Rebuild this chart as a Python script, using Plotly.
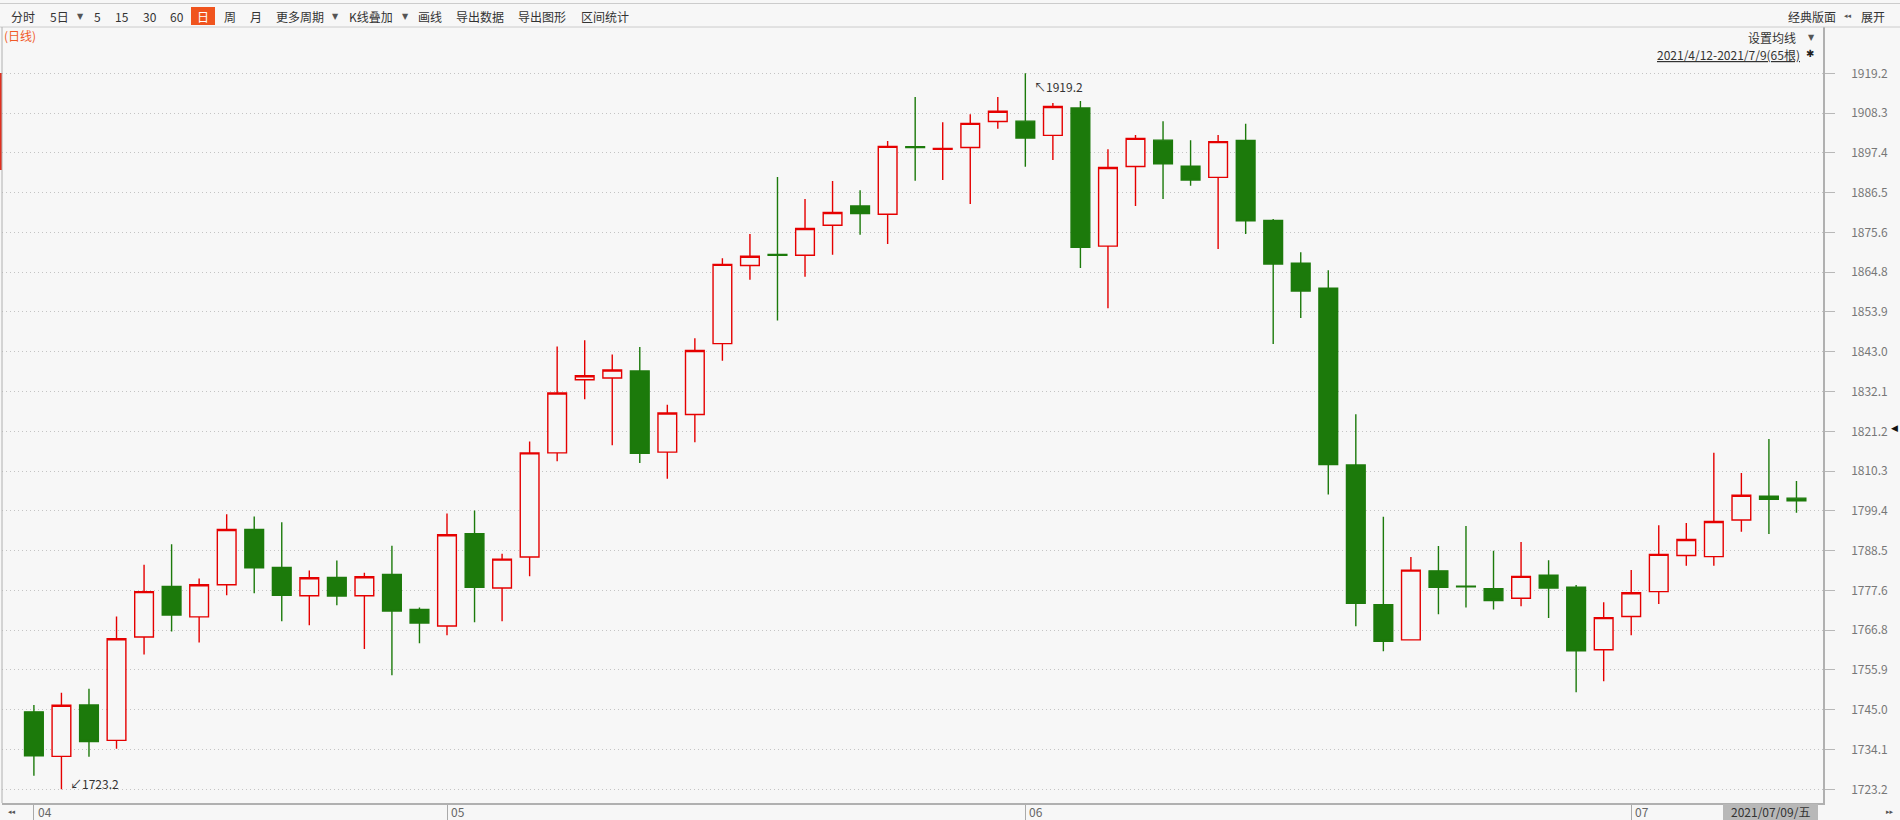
import plotly.graph_objects as go

# ---------------- data ----------------
dates = (
    ["2021-04-%02d" % d for d in [12, 13, 14, 15, 16, 19, 20, 21, 22, 23, 26, 27, 28, 29, 30]]
    + ["2021-05-%02d" % d for d in [3, 4, 5, 6, 7, 10, 11, 12, 13, 14, 17, 18, 19, 20, 21, 24, 25, 26, 27, 28, 31]]
    + ["2021-06-%02d" % d for d in [1, 2, 3, 4, 7, 8, 9, 10, 11, 14, 15, 16, 17, 18, 21, 22, 23, 24, 25, 28, 29, 30]]
    + ["2021-07-%02d" % d for d in [1, 2, 5, 6, 7, 8, 9]]
)

opens = [1744.4, 1732.2, 1746.3, 1736.6, 1764.9, 1778.7, 1770.4, 1779.2, 1794.3, 1783.9,
         1776.2, 1781.2, 1776.2, 1782.0, 1772.4, 1767.9, 1793.2, 1778.3, 1786.8, 1815.3,
         1835.3, 1835.8, 1837.7, 1815.5, 1825.8, 1845.2, 1866.6, 1869.6, 1869.4, 1877.6,
         1882.9, 1880.6, 1899.1, 1898.4, 1898.9, 1906.0, 1906.1, 1902.2, 1909.7, 1871.9,
         1893.7, 1900.9, 1893.8, 1890.7, 1900.8, 1878.9, 1867.2, 1860.4, 1812.0, 1773.7,
         1764.1, 1783.0, 1778.8, 1778.1, 1775.5, 1781.8, 1778.5, 1761.4, 1770.5, 1777.3,
         1787.2, 1786.9, 1796.9, 1803.4, 1802.9]
highs = [1746.3, 1749.6, 1750.7, 1770.5, 1784.7, 1790.3, 1780.9, 1798.5, 1797.9, 1796.3,
         1783.1, 1785.8, 1782.5, 1789.9, 1773.0, 1798.7, 1799.5, 1787.7, 1818.4, 1844.4,
         1846.1, 1842.2, 1844.3, 1828.5, 1846.7, 1868.6, 1875.2, 1890.8, 1884.8, 1889.7,
         1887.2, 1900.7, 1912.7, 1905.8, 1908.0, 1912.7, 1919.2, 1911.1, 1911.6, 1898.4,
         1902.3, 1906.1, 1900.9, 1902.3, 1905.4, 1879.3, 1870.2, 1865.3, 1825.9, 1797.8,
         1786.8, 1789.8, 1795.3, 1788.5, 1790.9, 1785.9, 1779.1, 1774.4, 1783.2, 1795.5,
         1796.1, 1815.3, 1809.8, 1819.1, 1807.6]
lows = [1726.9, 1723.2, 1732.1, 1734.3, 1760.1, 1766.4, 1763.4, 1776.3, 1776.9, 1769.2,
        1768.1, 1773.6, 1761.6, 1754.4, 1763.2, 1765.4, 1768.9, 1769.2, 1781.5, 1813.0,
        1830.0, 1817.4, 1812.5, 1808.2, 1818.2, 1840.5, 1862.7, 1851.5, 1863.5, 1869.5,
        1875.0, 1872.5, 1889.8, 1890.0, 1883.4, 1904.0, 1893.6, 1895.5, 1865.9, 1854.9,
        1882.9, 1884.8, 1888.4, 1871.1, 1875.2, 1845.1, 1852.2, 1803.9, 1767.8, 1761.0,
        1764.0, 1771.1, 1773.0, 1772.4, 1773.3, 1770.1, 1749.8, 1752.8, 1765.4, 1773.9,
        1784.4, 1784.4, 1793.7, 1793.1, 1798.9]
closes = [1732.4, 1746.2, 1736.3, 1764.4, 1777.3, 1770.9, 1779.2, 1794.3, 1783.8, 1776.3,
          1781.1, 1776.1, 1781.4, 1772.0, 1768.7, 1792.9, 1778.5, 1786.2, 1815.3, 1831.7,
          1836.4, 1838.0, 1815.2, 1826.2, 1843.3, 1866.9, 1869.1, 1869.4, 1876.7, 1881.1,
          1880.8, 1899.2, 1898.9, 1898.6, 1905.5, 1908.8, 1901.5, 1910.1, 1871.6, 1893.4,
          1901.4, 1894.4, 1890.0, 1900.5, 1878.8, 1867.0, 1859.6, 1812.1, 1774.1, 1763.7,
          1783.2, 1778.5, 1778.6, 1774.9, 1781.5, 1778.3, 1761.1, 1770.2, 1777.0, 1787.5,
          1791.6, 1796.5, 1803.7, 1802.6, 1802.2]

y_ticks = [1919.2, 1908.3, 1897.4, 1886.5, 1875.6, 1864.8, 1853.9, 1843.0, 1832.1, 1821.2,
           1810.3, 1799.4, 1788.5, 1777.6, 1766.8, 1755.9, 1745.0, 1734.1, 1723.2]
month_ticks = ["2021-04-12", "2021-05-03", "2021-06-01", "2021-07-01"]
month_labels = ["04", "05", "06", "07"]

toolbar_items = ["分时", "5日", "5", "15", "30", "60", "日", "周", "月", "更多周期", "K线叠加", "画线", "导出数据", "导出图形", "区间统计"]

# ---------------- styling ----------------
W, H = 1900, 820
L, R, T, B = 2, 1823, 27, 803
BG = "#f7f7f7"
RED = "#e50000"
GREEN = "#1c7a0b"
FONT = "Noto Sans CJK SC, Noto Sans, sans-serif"


def px(x):
    return (x - L) / (R - L)


def py(y):
    return (B - y) / (B - T)


fig = go.Figure()
fig.add_trace(go.Candlestick(
    x=dates, open=opens, high=highs, low=lows, close=closes,
    increasing=dict(line=dict(color=RED, width=1.4), fillcolor=BG),
    decreasing=dict(line=dict(color=GREEN, width=1.4), fillcolor=GREEN),
    whiskerwidth=0, hoverinfo="skip", showlegend=False,
))

ann = []
shapes = []

# toolbar
tb_x = [9, 48, 91.5, 113, 141, 168, 203, 222, 248, 274, 347, 416, 454, 516, 579]
for txt, x in zip(toolbar_items, tb_x):
    if txt == "日":
        shapes.append(dict(type="rect", xref="paper", yref="paper", x0=px(191), x1=px(215),
                           y0=py(25), y1=py(7), fillcolor="#f0541e", line=dict(width=0), layer="above"))
        ann.append(dict(x=px(203), y=py(16), xref="paper", yref="paper", text=txt, showarrow=False,
                        xanchor="center", yanchor="middle", font=dict(family=FONT, size=12, color="white")))
    else:
        ann.append(dict(x=px(x), y=py(16), xref="paper", yref="paper", text=txt, showarrow=False,
                        xanchor="left", yanchor="middle", font=dict(family=FONT, size=12, color="#333333")))
for x in [75, 330, 400]:
    ann.append(dict(x=px(x), y=py(16), xref="paper", yref="paper", text="▼", showarrow=False,
                    xanchor="left", yanchor="middle", font=dict(family="DejaVu Sans", size=8, color="#555555")))
ann.append(dict(x=px(1786), y=py(16), xref="paper", yref="paper", text="经典版面", showarrow=False,
                xanchor="left", yanchor="middle", font=dict(family=FONT, size=12, color="#333333")))
ann.append(dict(x=px(1842), y=py(16), xref="paper", yref="paper", text="◂◂", showarrow=False,
                xanchor="left", yanchor="middle", font=dict(family="DejaVu Sans", size=7, color="#555555")))
ann.append(dict(x=px(1859), y=py(16), xref="paper", yref="paper", text="展开", showarrow=False,
                xanchor="left", yanchor="middle", font=dict(family=FONT, size=12, color="#333333")))

# toolbar borders
for y in [3.5, 27]:
    shapes.append(dict(type="line", xref="paper", yref="paper", x0=px(0), x1=px(W), y0=py(y), y1=py(y),
                       line=dict(color="#cccccc", width=1)))

# chart texts
ann.append(dict(x=px(2), y=py(36), xref="paper", yref="paper", text="(日线)", showarrow=False,
                xanchor="left", yanchor="middle", font=dict(family=FONT, size=12, color="#f05a28")))
ann.append(dict(x=px(1798), y=py(38), xref="paper", yref="paper", text="设置均线", showarrow=False,
                xanchor="right", yanchor="middle", font=dict(family=FONT, size=12, color="#333333")))
ann.append(dict(x=px(1806), y=py(38), xref="paper", yref="paper", text="▼", showarrow=False,
                xanchor="left", yanchor="middle", font=dict(family="DejaVu Sans", size=8, color="#555555")))
ann.append(dict(x=px(1802), y=py(55), xref="paper", yref="paper", text="<u>2021/4/12-2021/7/9(65根)</u>",
                showarrow=False, xanchor="right", yanchor="middle",
                font=dict(family=FONT, size=12, color="#333333")))
ann.append(dict(x=px(1804), y=py(54), xref="paper", yref="paper", text="✱", showarrow=False,
                xanchor="left", yanchor="middle", font=dict(family="DejaVu Sans", size=10, color="#222222")))

# extremes
ann.append(dict(x=dates[36], y=highs[36], text="↖1919.2", showarrow=False, xanchor="left", yanchor="middle",
                xshift=7, yshift=-13, font=dict(family=FONT, size=12, color="#333333")))
ann.append(dict(x=dates[1], y=lows[1], text="↙1723.2", showarrow=False, xanchor="left", yanchor="middle",
                xshift=7, yshift=6, font=dict(family=FONT, size=12, color="#333333")))

# month labels beside their ticks
for d, lab in zip(month_ticks, month_labels):
    ann.append(dict(x=d, y=py(811.5), xref="x", yref="paper", text=lab, showarrow=False,
                    xanchor="left", yanchor="middle", xshift=2,
                    font=dict(family=FONT, size=12, color="#666666")))

# bottom
shapes.append(dict(type="rect", xref="paper", yref="paper", x0=px(1723), x1=px(1818), y0=py(820), y1=py(804),
                   fillcolor="#b8b8b8", line=dict(width=0)))
ann.append(dict(x=px(1770.5), y=py(811.5), xref="paper", yref="paper", text="2021/07/09/五", showarrow=False,
                xanchor="center", yanchor="middle", borderpad=0,
                font=dict(family=FONT, size=12, color="#333333")))
ann.append(dict(x=px(6), y=py(811.5), xref="paper", yref="paper", text="◂◂", showarrow=False,
                xanchor="left", yanchor="middle", font=dict(family="DejaVu Sans", size=7, color="#555555")))
ann.append(dict(x=px(1884), y=py(811.5), xref="paper", yref="paper", text="▸▸", showarrow=False,
                xanchor="left", yanchor="middle", font=dict(family="DejaVu Sans", size=7, color="#555555")))
ann.append(dict(x=px(1900), y=py(428), xref="paper", yref="paper", text="◀", showarrow=False,
                xanchor="right", yanchor="middle", font=dict(family="DejaVu Sans", size=9, color="#111111")))

# left red marker and left border
shapes.append(dict(type="rect", xref="paper", yref="paper", x0=px(0), x1=px(2), y0=py(170), y1=py(73),
                   fillcolor="#e03020", line=dict(width=0)))
shapes.append(dict(type="line", xref="paper", yref="paper", x0=px(2), x1=px(2), y0=0, y1=1,
                   line=dict(color="#b0b0b0", width=1)))

y_lo = 1723.2 - (B - 789.3) / 3.653
y_hi = 1919.2 + (73.3 - T) / 3.653
x_lo = (L - 33.9) / 27.54
x_hi = (R - 33.9) / 27.54

fig.update_layout(
    width=W, height=H,
    margin=dict(l=L, r=W - R, t=T, b=H - B, pad=0, autoexpand=False),
    paper_bgcolor=BG, plot_bgcolor=BG,
    boxgap=0.32, boxgroupgap=0,
    annotations=ann, shapes=shapes,
    xaxis=dict(
        type="category", range=[x_lo, x_hi], rangeslider=dict(visible=False),
        tickvals=month_ticks, ticktext=month_labels, ticks="outside", ticklen=17, tickcolor="#aaaaaa",
        showticklabels=False,
        showline=True, linecolor="#b0b0b0", linewidth=1.5, showgrid=False, zeroline=False,
        fixedrange=True,
    ),
    yaxis=dict(
        side="right", range=[y_lo, y_hi], tickvals=y_ticks, ticktext=["%.1f" % v for v in y_ticks],
        ticks="outside", ticklen=10, tickcolor="#b8b8b8", showline=True, linecolor="#b0b0b0", linewidth=1.5,
        showgrid=True, gridcolor="#c4c4c4", griddash="1px,3px", gridwidth=1, zeroline=False,
        tickfont=dict(family=FONT, size=12, color="#777777"), ticklabelstandoff=14, fixedrange=True,
    ),
)

fig.write_html("out.html", config={"displayModeBar": False},
               post_script="document.body.style.margin='0';document.body.style.overflow='hidden';")
